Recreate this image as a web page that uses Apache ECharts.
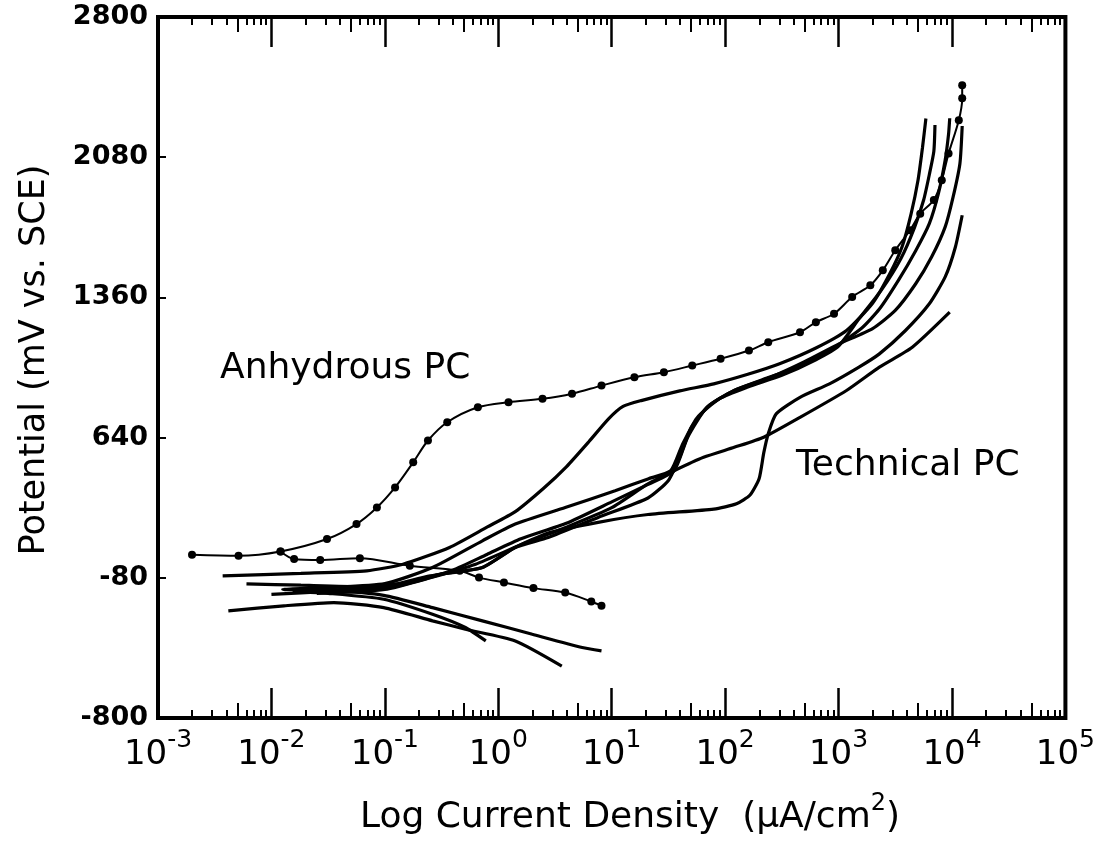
<!DOCTYPE html>
<html><head><meta charset="utf-8">
<script src="https://cdn.jsdelivr.net/npm/echarts@6/dist/echarts.min.js"></script>
<style>html,body{margin:0;padding:0;background:#fff}#c{width:1098px;height:844px}</style>
</head><body><div id="c"></div>
<script>
// x values are log10 of current density (uA/cm2), y values are potential (mV vs. SCE)
const decadeTicks = [-3, -2, -1, 0, 1, 2, 3, 4, 5];
const yTicks = [-800, -80, 640, 1360, 2080, 2800];
const minorMultipliers = [2, 3, 4, 6, 7, 8, 9];
const halfMultipliers = [5];

const anhydrousAnodic = [[-2.70,38],[-2.29,33],[-1.92,55],[-1.51,119],[-1.25,196],[-1.07,281],[-0.91,384],[-0.75,513],[-0.62,625],[-0.45,719],[-0.18,796],[0.09,822],[0.39,839],[0.65,865],[0.91,907],[1.20,950],[1.46,976],[1.71,1010],[1.96,1045],[2.21,1087],[2.38,1130],[2.66,1181],[2.80,1233],[2.96,1276],[3.12,1362],[3.28,1422],[3.39,1499],[3.50,1602],[3.63,1705],[3.72,1790],[3.84,1860],[3.91,1962],[3.97,2099],[4.06,2270],[4.09,2383],[4.09,2450]];
const anhydrousCathodic = [[-1.92,55],[-1.80,16],[-1.57,11],[-1.22,21],[-0.78,-18],[-0.34,-44],[-0.17,-79],[0.05,-104],[0.31,-133],[0.59,-156],[0.82,-202],[0.91,-224]];

const technicalA = [[-2.43,-70],[-1.74,-57],[-1.16,-44],[-0.84,-10],[-0.43,76],[-0.10,180],[0.15,260],[0.40,380],[0.60,490],[0.80,620],[0.97,735],[1.10,800],[1.26,830],[1.60,880],[1.90,916],[2.20,965],[2.48,1019],[2.80,1100],[3.07,1190],[3.30,1330],[3.45,1480],[3.56,1620],[3.64,1790],[3.70,1960],[3.74,2130],[3.77,2279]];
const technicalB = [[-2.22,-111],[-1.74,-118],[-1.20,-125],[-0.80,-105],[-0.50,-60],[-0.14,-27],[0.15,76],[0.44,150],[0.88,205],[1.32,245],[1.90,273],[2.10,300],[2.22,345],[2.30,430],[2.34,560],[2.38,660],[2.45,762],[2.66,847],[2.92,916],[3.18,1002],[3.36,1070],[3.59,1190],[3.80,1327],[3.94,1465],[4.03,1619],[4.09,1782]];
const technicalC = [[0.91,-455],[0.74,-438],[0.30,-370],[-0.14,-301],[-0.58,-233],[-1.01,-170],[-1.50,-145],[-1.90,-140],[-1.50,-130],[-1.00,-110],[-0.58,-27],[-0.14,110],[0.15,196],[0.59,281],[1.03,367],[1.32,428],[1.52,470],[1.62,600],[1.75,740],[1.95,840],[2.20,900],[2.50,960],[2.80,1040],[3.00,1110],[3.18,1250],[3.38,1400],[3.55,1560],[3.67,1720],[3.75,1860],[3.80,1990],[3.84,2110],[3.85,2245]];
const technicalD = [[-0.11,-404],[-0.29,-335],[-0.58,-267],[-1.01,-190],[-1.50,-160],[-1.80,-150],[-1.40,-140],[-1.00,-125],[-0.60,-70],[-0.14,-27],[0.15,76],[0.44,127],[0.88,230],[1.32,330],[1.50,420],[1.60,540],[1.70,690],[1.85,800],[2.08,882],[2.31,933],[2.63,1002],[2.92,1087],[3.20,1200],[3.36,1300],[3.53,1450],[3.68,1600],[3.80,1739],[3.88,1893],[3.94,2065],[3.97,2200],[3.98,2280]];
const technicalE = [[-2.00,-165],[-1.50,-150],[-1.00,-135],[-0.70,-95],[-0.40,-40],[-0.10,40],[0.20,120],[0.60,200],[1.00,310],[1.32,400],[1.55,470],[1.67,642],[1.84,796],[2.08,882],[2.40,950],[2.70,1030],[3.00,1120],[3.30,1200],[3.50,1293],[3.68,1430],[3.82,1567],[3.94,1722],[4.01,1876],[4.07,2048],[4.09,2240]];
const technicalF = [[-1.60,-160],[-1.00,-140],[-0.60,-80],[-0.20,-10],[0.20,90],[0.60,180],[1.00,280],[1.32,402],[1.55,470],[1.81,539],[2.08,590],[2.34,642],[2.66,744],[3.07,882],[3.36,1002],[3.65,1104],[3.98,1284]];
const technicalG = [[-2.38,-250],[-1.89,-224],[-1.45,-207],[-1.01,-233],[-0.58,-301],[-0.29,-344],[0.15,-404],[0.56,-533]];

const technicalCurves = [technicalA, technicalB, technicalC, technicalD, technicalE, technicalF, technicalG];

function ticksFor(mults) {
  const out = [];
  decadeTicks.slice(0, -1).forEach(d => mults.forEach(m => out.push(d + Math.log10(m))));
  return out;
}
const FONT = 'DejaVu Sans';

function xAxisDef(pos, tickValues, len, width, withLabels) {
  const ax = {
    type: 'value', position: pos, min: -3, max: 5,
    axisLine: { show: false, onZero: false },
    splitLine: { show: false },
    axisTick: { show: true, inside: true, length: len, lineStyle: { color: '#000', width: width } },
    axisLabel: { show: false }
  };
  if (tickValues) { ax.axisTick.customValues = tickValues; }
  else { ax.interval = 1; }
  if (withLabels) {
    ax.axisLabel = {
      show: true, margin: 10, interval: 0,
      formatter: v => '{b|10}{s|' + Math.round(v) + '}',
      rich: {
        b: { fontFamily: FONT, fontSize: 34, color: '#000', lineHeight: 44, verticalAlign: 'bottom' },
        s: { fontFamily: FONT, fontSize: 25, color: '#000', lineHeight: 27, verticalAlign: 'top' }
      }
    };
  }
  return ax;
}

const chart = echarts.init(document.getElementById('c'), null, { renderer: 'canvas' });
const series = [];
technicalCurves.forEach(c => series.push({
  type: 'line', data: c, showSymbol: false, smooth: 0.2,
  lineStyle: { color: '#000', width: 3.2 }, silent: true
}));
series.push({
  type: 'line', data: anhydrousAnodic, symbol: 'circle', symbolSize: 8, smooth: 0.3,
  itemStyle: { color: '#000' }, lineStyle: { color: '#000', width: 2 }, silent: true
});
series.push({
  type: 'line', data: anhydrousCathodic, symbol: 'circle', symbolSize: 8, smooth: 0.3,
  itemStyle: { color: '#000' }, lineStyle: { color: '#000', width: 2 }, silent: true
});

chart.setOption({
  animation: false,
  backgroundColor: '#fff',
  grid: { left: 158, right: 27, top: 17, bottom: 126, show: true, borderColor: '#000', borderWidth: 4, backgroundColor: 'transparent' },
  xAxis: [
    xAxisDef('bottom', null, 30, 2.5, true),
    xAxisDef('bottom', ticksFor(halfMultipliers), 15, 2, false),
    xAxisDef('bottom', ticksFor(minorMultipliers), 8, 2, false),
    xAxisDef('top', null, 30, 2.5, false),
    xAxisDef('top', ticksFor(halfMultipliers), 15, 2, false),
    xAxisDef('top', ticksFor(minorMultipliers), 8, 2, false)
  ],
  yAxis: [{
    type: 'value', min: -800, max: 2800, position: 'left',
    axisLine: { show: false, onZero: false },
    splitLine: { show: false },
    axisTick: { show: true, inside: true, length: 8, customValues: yTicks, lineStyle: { color: '#000', width: 2 } },
    axisLabel: { show: true, customValues: yTicks, margin: 10, formatter: v => String(v),
      fontFamily: FONT, fontWeight: 'bold', fontSize: 27, color: '#000' }
  }],
  series: series,
  graphic: [
    { type: 'text', left: 220, top: 351, style: { text: 'Anhydrous PC', font: '36px "DejaVu Sans"', fill: '#000' } },
    { type: 'text', left: 796, top: 448, style: { text: 'Technical PC', font: '36px "DejaVu Sans"', fill: '#000' } },
    { type: 'text', x: 35, y: 360, rotation: Math.PI / 2,
      style: { text: 'Potential (mV vs. SCE)', font: '35px "DejaVu Sans"', fill: '#000', align: 'center', verticalAlign: 'middle' } },
    { type: 'text', x: 630, y: 814,
      style: { text: '{a|Log Current Density  (μA/cm}{s|2}{a|)}', align: 'center', verticalAlign: 'middle',
        rich: {
          a: { fontFamily: FONT, fontSize: 36, fill: '#000', lineHeight: 44, verticalAlign: 'bottom' },
          s: { fontFamily: FONT, fontSize: 24, fill: '#000', lineHeight: 24, verticalAlign: 'top' }
        } } }
  ]
});
</script></body></html>
